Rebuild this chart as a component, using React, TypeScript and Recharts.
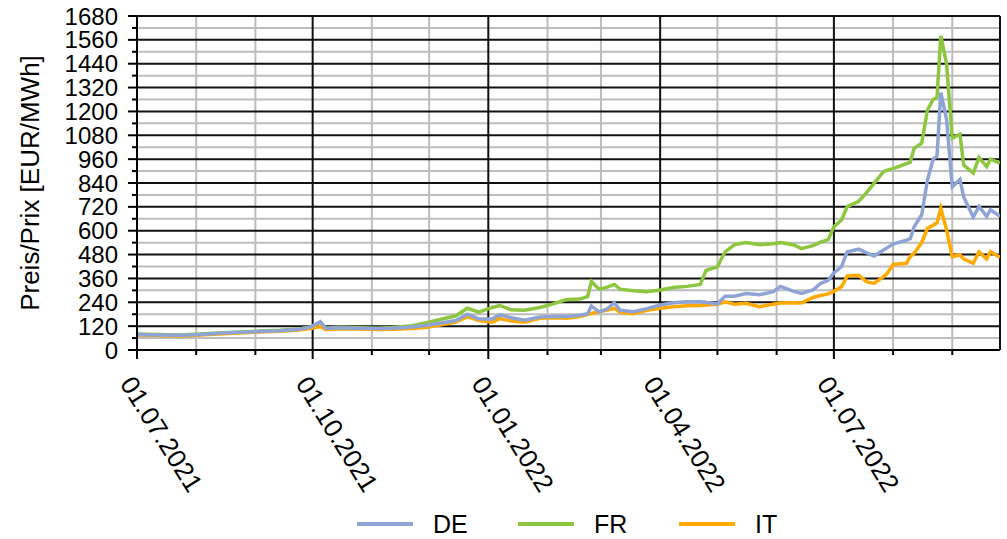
import { CartesianGrid, Line, LineChart, ReferenceLine, XAxis, YAxis } from "recharts";

const dates = [
  "2021-07-01", "2021-07-12", "2021-07-23", "2021-08-03", "2021-08-13", "2021-08-24", "2021-09-03", "2021-09-14",
  "2021-09-24", "2021-09-30", "2021-10-05", "2021-10-08", "2021-10-15", "2021-10-25", "2021-11-04", "2021-11-12",
  "2021-11-22", "2021-11-30", "2021-12-08", "2021-12-15", "2021-12-21", "2021-12-27", "2022-01-03", "2022-01-07",
  "2022-01-13", "2022-01-20", "2022-01-28", "2022-02-04", "2022-02-11", "2022-02-18", "2022-02-22", "2022-02-24",
  "2022-02-28", "2022-03-04", "2022-03-08", "2022-03-11", "2022-03-18", "2022-03-25", "2022-04-01", "2022-04-08",
  "2022-04-15", "2022-04-22", "2022-04-25", "2022-05-01", "2022-05-05", "2022-05-10", "2022-05-16", "2022-05-23",
  "2022-05-30", "2022-06-03", "2022-06-10", "2022-06-14", "2022-06-20", "2022-06-24", "2022-06-28", "2022-07-01",
  "2022-07-05", "2022-07-08", "2022-07-14", "2022-07-18", "2022-07-22", "2022-07-27", "2022-07-29", "2022-08-01",
  "2022-08-08", "2022-08-10", "2022-08-12", "2022-08-16", "2022-08-19", "2022-08-22", "2022-08-24", "2022-08-26",
  "2022-08-29", "2022-09-01", "2022-09-05", "2022-09-07", "2022-09-12", "2022-09-15", "2022-09-19", "2022-09-21",
  "2022-09-26",
];

const priceDE = [
  78, 76, 74, 78, 84, 89, 93, 97, 104, 115, 142, 108, 112, 110, 108, 110,
  116, 124, 137, 148, 180, 156, 156, 178, 162, 150, 166, 168, 168, 175, 182, 222,
  192, 205, 238, 200, 193, 208, 226, 238, 243, 243, 240, 232, 270, 270, 284, 278,
  292, 320, 295, 285, 302, 335, 350, 388, 420, 494, 507, 490, 473, 503, 515, 533,
  553, 560, 620, 680, 855, 960, 975, 1295, 1160, 820, 858, 770, 668, 722, 672, 705,
  672,
];

const priceFR = [
  80, 78, 76, 80, 85, 90, 95, 99, 106, 116, 140, 110, 114, 112, 110, 113,
  122, 138, 156, 172, 210, 190, 214, 224, 202, 200, 214, 232, 254, 256, 268, 345,
  306, 315, 330, 306, 298, 293, 302, 314, 320, 330, 400, 418, 494, 530, 540, 530,
  535, 540, 528, 510, 525, 542, 555, 620, 654, 721, 748, 790, 838, 897, 905, 912,
  938, 945, 1014, 1040, 1207, 1260, 1270, 1580, 1440, 1065, 1085, 930, 890, 968, 922, 960,
  940,
];

const priceIT = [
  75, 73, 71, 75, 81, 86, 90, 94, 100, 108, 118, 102, 107, 105, 103, 104,
  108, 114, 128, 140, 168, 148, 140, 158, 146, 140, 160, 162, 160, 168, 178, 184,
  192, 200, 210, 190, 182, 200, 210, 218, 222, 224, 226, 230, 242, 230, 235, 218,
  230, 236, 238, 236, 264, 274, 282, 295, 318, 372, 376, 344, 335, 369, 386, 430,
  436, 470, 486, 540, 612, 628, 640, 713, 604, 470, 478, 458, 436, 494, 458, 494,
  466,
];

const monthStarts = [
  "2021-07-01", "2021-08-01", "2021-09-01", "2021-10-01", "2021-11-01", "2021-12-01", "2022-01-01", "2022-02-01",
  "2022-03-01", "2022-04-01", "2022-05-01", "2022-06-01", "2022-07-01", "2022-08-01", "2022-09-01",
];
const quarterStarts = ["2021-07-01", "2021-10-01", "2022-01-01", "2022-04-01", "2022-07-01"];
const quarterLabels = ["01.07.2021", "01.10.2021", "01.01.2022", "01.04.2022", "01.07.2022"];
const rangeStart = "2021-07-01";
const rangeEnd = "2022-09-26";

const yMajorTicks = [0, 120, 240, 360, 480, 600, 720, 840, 960, 1080, 1200, 1320, 1440, 1560, 1680];
const yMinorTicks = [60, 180, 300, 420, 540, 660, 780, 900, 1020, 1140, 1260, 1380, 1500, 1620];

const seriesNames = ["DE", "FR", "IT"];
const seriesColors = ["#8FA4D6", "#8DC63F", "#FFAA00"];

const FONT = "'Liberation Sans', Arial, sans-serif";
const toTime = (d: string) => Date.parse(d);

const rows = dates.map((d, i) => ({
  t: toTime(d),
  DE: priceDE[i],
  FR: priceFR[i],
  IT: priceIT[i],
}));

const monthTimes = monthStarts.map(toTime);
const quarterTimes = quarterStarts.map(toTime);
const grayMonthTimes = monthTimes.filter((t) => !quarterTimes.includes(t));
const yAllTicks = [...yMajorTicks, ...yMinorTicks].sort((a, b) => a - b);

function PriceTick({ x, y, payload }: any) {
  const v = payload.value as number;
  const major = v % 120 === 0;
  return (
    <g>
      <line x1={x - (major ? 9 : 5)} x2={x} y1={y} y2={y} stroke="#000" strokeWidth={2} />
      {major && (
        <text x={x - 19} y={y} textAnchor="end" dominantBaseline="central" fontSize={24} fontFamily={FONT} fill="#000">
          {v}
        </text>
      )}
    </g>
  );
}

function DateTick({ x, y, payload }: any) {
  const idx = quarterTimes.indexOf(payload.value);
  const tx = x - 10;
  const ty = y + 29;
  return (
    <g>
      <line x1={x} x2={x} y1={y} y2={y + (idx >= 0 ? 9 : 5)} stroke="#000" strokeWidth={2} />
      {idx >= 0 && (
        <text
          x={tx}
          y={ty}
          transform={`rotate(58, ${tx}, ${ty})`}
          textAnchor="start"
          dominantBaseline="central"
          fontSize={26}
          fontFamily={FONT}
          fill="#000"
        >
          {quarterLabels[idx]}
        </text>
      )}
    </g>
  );
}

function AxisTitle({ viewBox }: any) {
  const cx = 30;
  const cy = viewBox.y + viewBox.height / 2;
  return (
    <text
      x={cx}
      y={cy}
      transform={`rotate(-90, ${cx}, ${cy})`}
      textAnchor="middle"
      dominantBaseline="central"
      fontSize={26}
      fontFamily={FONT}
      fill="#000"
    >
      Preis/Prix [EUR/MWh]
    </text>
  );
}

export default function App() {
  return (
    <div style={{ position: "absolute", left: 0, top: 0, width: 1007, height: 539, overflow: "hidden", background: "#fff" }}>
      <LineChart width={1007} height={539} data={rows} margin={{ top: 16, right: 7, left: 0, bottom: 0 }}>
        <CartesianGrid
          stroke="#BDBDBD"
          strokeWidth={2}
          horizontalValues={yMinorTicks}
          verticalValues={grayMonthTimes}
        />
        <CartesianGrid
          stroke="#111"
          strokeWidth={2}
          horizontalValues={yMajorTicks}
          verticalValues={quarterTimes}
        />
        <XAxis
          dataKey="t"
          type="number"
          domain={[toTime(rangeStart), toTime(rangeEnd)]}
          ticks={monthTimes}
          tick={<DateTick />}
          tickLine={false}
          tickSize={0}
          tickMargin={0}
          height={189}
          interval={0}
          axisLine={{ stroke: "#000", strokeWidth: 2 }}
          allowDataOverflow
        />
        <YAxis
          type="number"
          domain={[0, 1680]}
          ticks={yAllTicks}
          tick={<PriceTick />}
          tickLine={false}
          tickSize={0}
          tickMargin={0}
          width={137}
          interval={0}
          axisLine={{ stroke: "#000", strokeWidth: 2 }}
          label={<AxisTitle />}
        />
        <ReferenceLine x={toTime(rangeEnd)} stroke="#111" strokeWidth={2} />
        <Line dataKey="FR" stroke={seriesColors[1]} strokeWidth={3.5} dot={false} isAnimationActive={false} />
        <Line dataKey="IT" stroke={seriesColors[2]} strokeWidth={3.5} dot={false} isAnimationActive={false} />
        <Line dataKey="DE" stroke={seriesColors[0]} strokeWidth={3.5} dot={false} isAnimationActive={false} />
      </LineChart>
      <div style={{ position: "absolute", left: 357, top: 509, display: "flex", fontFamily: FONT, fontSize: 25 }}>
        {seriesNames.map((name, i) => (
          <div key={name} style={{ width: 161, height: 30, display: "flex", alignItems: "center" }}>
            <span style={{ display: "inline-block", width: 56, height: 4, background: seriesColors[i], marginRight: 20 }} />
            <span style={{ lineHeight: "30px", color: "#000" }}>{name}</span>
          </div>
        ))}
      </div>
    </div>
  );
}
